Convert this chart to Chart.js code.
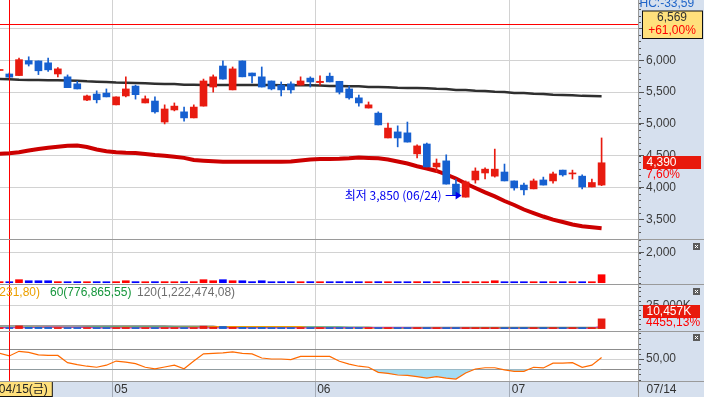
<!DOCTYPE html>
<html lang="ko">
<head>
<meta charset="utf-8">
<title>일봉 차트</title>
<script src="https://cdn.jsdelivr.net/npm/chart.js@4.4.1/dist/chart.umd.min.js"></script>
<style>
  html, body { margin: 0; padding: 0; background: #fff; }
  #wrap { position: relative; width: 704px; height: 397px; overflow: hidden; background: #fff; }
  #wrap canvas { position: absolute; left: 0; }
  .bg { position: absolute; background: #d6e0ee; }
  .sep { position: absolute; background: #9a9a9a; z-index: 5; }
</style>
</head>
<body>
<div id="wrap">
  <div class="bg" style="left:638px;top:0;width:66px;height:397px"></div>
  <div class="bg" style="left:0;top:381px;width:638px;height:16px"></div>
  <canvas id="price" width="704" height="240" style="top:0"></canvas>
  <canvas id="amt" width="704" height="45" style="top:240px"></canvas>
  <canvas id="vol" width="704" height="46" style="top:285px"></canvas>
  <canvas id="osc" width="704" height="66" style="top:331px"></canvas>
  <div class="sep" style="left:638px;top:0;width:1px;height:397px"></div>
  <div class="sep" style="left:0;top:239px;width:704px;height:1px"></div>
  <div class="sep" style="left:0;top:284px;width:704px;height:1px"></div>
  <div class="sep" style="left:0;top:331px;width:704px;height:1px"></div>
  <div class="sep" style="left:0;top:381px;width:704px;height:1px"></div>
</div>
<script>
/* ── DATA ── */
const dates = [
  '04/14','04/15','04/18','04/19','04/20','04/21','04/22','04/25','04/26','04/27','04/28','04/29',
  '05/02','05/03','05/04','05/06','05/09','05/10','05/11','05/12','05/13','05/16','05/17','05/18',
  '05/19','05/20','05/23','05/24','05/25','05/26','05/27','05/30','05/31',
  '06/02','06/03','06/07','06/08','06/09','06/10','06/13','06/14','06/15','06/16','06/17','06/20',
  '06/21','06/22','06/23','06/24','06/27','06/28','06/29','06/30',
  '07/01','07/04','07/05','07/06','07/07','07/08','07/11','07/12','07/13','07/14'
];
const opens  = [5840,5785,5760,5995,5990,5960,5785,5740,5630,5375,5470,5485,5300,5440,5595,5330,5360,5030,5220,5190,5095,5280,5580,5910,5535,5990,5800,5740,5675,5610,5630,5610,5720,5650,5750,5670,5550,5410,5250,5170,4780,4875,4860,4530,4685,4325,4420,4055,3850,4120,4230,4180,4245,4105,4040,3980,4120,4105,4275,4215,4180,4010,4040];
const highs  = [5850,5800,6035,6055,5990,6035,5885,5770,5670,5455,5520,5550,5425,5740,5610,5440,5425,5300,5330,5265,5300,5705,5770,5990,5895,5990,5800,5895,5675,5660,5660,5740,5740,5755,5800,5670,5595,5455,5345,5190,5015,4970,5030,4670,4700,4450,4515,4135,4105,4310,4310,4605,4370,4105,4070,4135,4165,4245,4275,4275,4200,4135,4780];
const lows   = [5835,5730,5760,5910,5775,5825,5740,5570,5550,5365,5330,5425,5300,5425,5390,5330,5170,5000,5205,5045,5095,5280,5500,5705,5535,5740,5645,5580,5535,5440,5485,5610,5580,5610,5660,5470,5390,5280,5250,4985,4780,4640,4715,4465,4325,4245,4055,3885,3850,4070,4135,4165,4105,3960,3885,3980,4040,4070,4180,4135,3980,4010,4030];
const closes = [5848,5735,6010,5940,5835,5850,5865,5570,5550,5440,5380,5425,5425,5550,5460,5395,5190,5235,5280,5095,5265,5675,5740,5705,5865,5740,5755,5580,5550,5535,5535,5675,5660,5670,5660,5500,5410,5330,5300,4985,4935,4780,4715,4655,4325,4385,4055,3885,4090,4260,4290,4290,4105,3995,3965,4105,4040,4215,4200,4230,4010,4080,4390];
const ma120  = [5706,5702,5695,5692,5690,5688,5686,5684,5680,5670,5664,5660,5650,5646,5643,5640,5633,5629,5626,5617,5614,5613,5613,5612,5612,5611,5611,5610,5610,5609,5609,5608,5607,5605,5598,5596,5594,5592,5582,5580,5578,5567,5565,5563,5560,5551,5548,5535,5532,5520,5517,5504,5500,5488,5485,5473,5470,5458,5455,5452,5441,5439,5437];
const ma60   = [4533,4541,4556,4583,4607,4625,4641,4657,4662,4638,4599,4572,4556,4548,4544,4528,4512,4501,4486,4467,4434,4423,4415,4407,4407,4406,4406,4406,4407,4408,4410,4426,4442,4449,4449,4452,4460,4473,4465,4460,4442,4410,4379,4335,4300,4261,4206,4143,4065,3994,3926,3863,3790,3727,3656,3601,3546,3497,3460,3420,3392,3376,3361];
const amount = [70,60,200,130,130,130,70,65,70,60,70,65,70,130,70,60,70,70,65,60,70,200,130,200,130,130,70,130,65,70,60,65,70,60,65,70,65,60,65,70,65,60,65,70,65,60,70,65,70,65,60,130,65,60,65,60,55,60,55,60,55,50,530];
const volume = [1100,900,2900,1500,1400,1300,800,900,700,800,750,700,800,1200,700,650,700,800,600,650,700,2600,1600,2300,1500,1400,700,1300,600,650,600,550,600,520,560,600,580,520,500,640,560,520,540,600,620,560,610,580,700,560,500,900,480,420,400,380,330,350,300,320,280,230,10457];
const volMa5   = [1000,1050,1100,1150,1450,1500,1500,1450,1400,1350,820,800,790,800,810,800,790,780,790,800,810,800,800,790,780,790,800,810,800,790,780,790,800,800,790,1100,1150,1200,1200,1150,1100,1100,1050,450,440,430,420,420,410,400,400,390,390,380,380,370,370,360,360,350,350,340,2300];
const volMa20  = [1180,1190,1200,1210,1220,1220,1210,1200,1200,1190,1190,1200,1200,1210,1200,1190,1180,1190,1200,1210,1220,1230,2150,2180,2200,2220,2230,2220,2200,2180,2160,2150,520,510,500,500,490,490,480,480,470,470,460,460,450,450,440,440,430,430,420,420,410,410,400,400,390,390,380,380,370,370,900];
const volMa60  = [1400,1400,1410,1420,1420,1430,1430,1440,1440,1480,1490,1500,1500,1510,1510,1520,1520,1530,1530,1540,1540,1550,1550,1560,1560,1560,1550,1550,1540,1540,1530,1520,1510,1500,1490,1480,1470,1460,1450,760,760,760,760,770,770,770,770,770,770,770,770,775,775,775,775,775,775,776,776,776,777,777,777];
const volMa120 = [2900,2900,2890,2890,2880,2880,2870,2870,2860,2860,2850,2850,2840,2840,2830,2830,2820,2820,2810,2810,2800,2800,2790,1300,1300,1295,1295,1290,1290,1285,1285,1280,1280,1275,1275,1270,1270,1265,1265,1260,1260,1255,1255,1250,1250,1245,1245,1240,1240,1235,1235,1230,1230,1228,1228,1226,1226,1225,1225,1224,1223,1222,1222];
const osc = [61,56,65,63,58,57,57,43,39,36,34,38,46,44,41,34,31,34.5,38,31,46,60,61,62,64,61,60,52,50,50,49,55,55,55,55,45.6,40,36,34,24,22,19,18.4,15.7,13,15.7,13,11,23,30.6,33,33,29,26,26,34,32.6,42,42,43,34,38,53];

const priceTicks = [3500, 4000, 4500, 5000, 5500, 6000, 6500];
const oscLevels  = [70, 30];
const monthEdges  = [11.6, 32.5, 52.55];
const monthLabels = ['05', '06', '07'];
const crossIdx = 1, crossPrice = 6569, lowIdx = 48;

/* ── STYLE ── */
const FONT = '"Liberation Sans", Arial, "Noto Sans CJK KR", sans-serif';
const KFONT = '"Noto Sans CJK KR", "Liberation Sans", sans-serif';
const UP = '#e81b10', DOWN = '#1660d0';
const X_MIN = 0.042, X_MAX = 65.75;
Chart.defaults.font.family = FONT;
Chart.defaults.font.size = 12;
Chart.defaults.color = '#333';

const xs = dates.map((d, k) => k);
const pts = arr => arr.map((v, k) => ({ x: k, y: v }));
const isUp = k => closes[k] >= opens[k];
const comma = v => v.toLocaleString('en-US');

function xAxis(withDates) {
  return {
    type: 'linear', min: X_MIN, max: X_MAX, offset: false,
    afterBuildTicks: s => { s.ticks = monthEdges.map(v => ({ value: v })); },
    afterFit: s => { s.height = withDates ? 16 : 0; s.paddingLeft = 0; s.paddingRight = 0; },
    grid: { offset: false, color: '#d2d2d2', drawTicks: withDates, tickLength: 16, tickColor: '#a4acb8' },
    border: { display: false },
    ticks: {
      display: withDates, autoSkip: false, maxRotation: 0, align: 'start',
      padding: -15, labelOffset: 2, color: '#333',
      callback: (v, i) => monthLabels[i]
    }
  };
}

function yAxis(min, max, ticks, fmt) {
  return {
    position: 'right', min, max,
    afterBuildTicks: s => { s.ticks = ticks.map(v => ({ value: v })); },
    afterFit: s => { s.width = 66; s.paddingTop = 0; s.paddingBottom = 0; },
    grid: { color: '#d2d2d2', tickColor: '#555', tickLength: 6 },
    border: { display: false },
    ticks: { padding: 2, color: '#3a3a3a', callback: fmt }
  };
}

function baseOptions(y, withDates, minorStep) {
  return {
    responsive: false, animation: false, events: [],
    layout: { padding: 0 },
    plugins: { legend: { display: false }, tooltip: { enabled: false }, minor: { step: minorStep } },
    scales: { x: xAxis(withDates), y }
  };
}

/* ── PLUGINS ── */
const crosshair = {
  id: 'crosshair',
  afterDatasetsDraw(chart) {
    const { ctx, chartArea: a, scales: { x } } = chart;
    const px = Math.round(x.getPixelForValue(crossIdx)) + 0.5;
    ctx.save();
    ctx.strokeStyle = '#ff0000'; ctx.lineWidth = 1;
    ctx.beginPath(); ctx.moveTo(px, a.top); ctx.lineTo(px, a.bottom); ctx.stroke();
    ctx.restore();
  }
};

const minorTicks = {
  id: 'minor',
  afterDraw(chart, args, opts) {
    const { ctx, chartArea: a, scales: { y } } = chart;
    ctx.save();
    ctx.strokeStyle = '#555'; ctx.lineWidth = 1;
    ctx.beginPath();
    for (let v = Math.ceil(y.min / opts.step) * opts.step; v <= y.max; v += opts.step) {
      const py = Math.round(y.getPixelForValue(v)) + 0.5;
      ctx.moveTo(a.right, py); ctx.lineTo(a.right + 3, py);
    }
    ctx.stroke();
    ctx.restore();
  }
};

const closeBox = {
  id: 'closeBox',
  afterDraw(chart) {
    const { ctx, chartArea: a } = chart;
    const x0 = 693, y0 = a.top + 3;
    ctx.save();
    ctx.fillStyle = '#5c5c5c'; ctx.fillRect(x0, y0, 7, 7);
    ctx.strokeStyle = '#fff'; ctx.lineWidth = 1;
    ctx.beginPath();
    ctx.moveTo(x0 + 2, y0 + 2); ctx.lineTo(x0 + 5, y0 + 5);
    ctx.moveTo(x0 + 5, y0 + 2); ctx.lineTo(x0 + 2, y0 + 5);
    ctx.stroke();
    ctx.restore();
  }
};

function label(ctx, text, x, y, color, align) {
  ctx.fillStyle = color; ctx.textAlign = align || 'left'; ctx.textBaseline = 'middle';
  ctx.fillText(text, x, y);
}

const priceMarks = {
  id: 'priceMarks',
  afterDraw(chart) {
    const { ctx, chartArea: a, scales: { x, y } } = chart;
    ctx.save();
    ctx.font = '12px ' + FONT;

    // 십자선 가격선
    const cy = Math.round(y.getPixelForValue(crossPrice)) + 0.5;
    ctx.strokeStyle = '#ff0000'; ctx.lineWidth = 1;
    ctx.beginPath(); ctx.moveTo(a.left, cy); ctx.lineTo(a.right, cy); ctx.stroke();

    // 최저가 표시
    const lx = x.getPixelForValue(lowIdx) - 4;
    const ly = Math.round(y.getPixelForValue(lows[lowIdx]) - 2) + 0.5;
    ctx.strokeStyle = '#0000ee'; ctx.fillStyle = '#0000ee';
    ctx.beginPath(); ctx.moveTo(lx - 16, ly); ctx.lineTo(lx - 4, ly); ctx.stroke();
    ctx.beginPath(); ctx.moveTo(lx, ly); ctx.lineTo(lx - 6, ly - 4); ctx.lineTo(lx - 6, ly + 4); ctx.closePath(); ctx.fill();
    ctx.font = '12px ' + KFONT;
    label(ctx, '최저 ' + comma(lows[lowIdx]) + ' (' + dates[lowIdx] + ')', lx - 20, ly, '#0000ee', 'right');
    ctx.font = '12px ' + FONT;

    // 오른쪽 축 상단 지표값
    ctx.fillStyle = '#1f64c8'; ctx.textAlign = 'left'; ctx.textBaseline = 'alphabetic';
    ctx.fillText('HC:-33,59', 639.5, 7);

    // 십자선 가격 박스
    ctx.fillStyle = '#ffe07c'; ctx.fillRect(642.5, cy - 13.5, 60, 27.5);
    ctx.strokeStyle = '#111'; ctx.strokeRect(642.5, cy - 13.5, 60, 27.5);
    label(ctx, comma(crossPrice), 672, cy - 7, '#333', 'center');
    label(ctx, '+61,00%', 672, cy + 6, '#ff0000', 'center');

    // 현재가 박스
    const ny = y.getPixelForValue(closes[closes.length - 1]);
    ctx.fillStyle = '#e8190c'; ctx.fillRect(643, Math.round(ny - 7), 58, 13);
    label(ctx, comma(closes[closes.length - 1]), 646.5, ny, '#fff');
    label(ctx, '7,60%', 646, ny + 12, '#ff0000');
    ctx.restore();
  }
};

const volMarks = {
  id: 'volMarks',
  afterDraw(chart) {
    const { ctx, scales: { y } } = chart;
    ctx.save();
    ctx.font = '12px ' + FONT;
    label(ctx, '1,231,80)', 40, 8, '#eba000', 'right');
    label(ctx, '60(776,865,55)', 50, 8, '#16963c');
    label(ctx, '120(1,222,474,08)', 137, 8, '#6e6e6e');
    const vy = y.getPixelForValue(volume[volume.length - 1]);
    ctx.fillStyle = '#e8190c'; ctx.fillRect(643, Math.round(vy - 14), 57, 13);
    label(ctx, comma(volume[volume.length - 1]) + 'K', 646.5, vy - 7.5, '#fff');
    label(ctx, '4455,13%', 646, vy + 4, '#ff0000');
    ctx.restore();
  }
};

const oscMarks = {
  id: 'oscMarks',
  beforeDatasetsDraw(chart) {
    const { ctx, chartArea: a, scales: { y } } = chart;
    ctx.save();
    ctx.strokeStyle = '#8c8c8c'; ctx.lineWidth = 1;
    ctx.beginPath();
    oscLevels.forEach(v => {
      const py = Math.round(y.getPixelForValue(v)) + 0.5;
      ctx.moveTo(a.left, py); ctx.lineTo(a.right, py);
    });
    ctx.stroke();
    ctx.restore();
  },
  afterDraw(chart) {
    const { ctx, chartArea: a, scales: { x } } = chart;
    ctx.save();
    ctx.font = '12px ' + FONT;
    const bx = x.getPixelForValue(crossIdx);
    ctx.fillStyle = '#ffe07c'; ctx.fillRect(bx - 11, a.bottom + 0.5, 54, 15);
    ctx.strokeStyle = '#111'; ctx.strokeRect(bx - 11, a.bottom + 0.5, 54, 15);
    label(ctx, dates[crossIdx] + '(금)', bx - 10.5, a.bottom + 8.5, '#222');
    label(ctx, dates[dates.length - 1], 646.5, a.bottom + 8.5, '#333');
    ctx.restore();
  }
};

/* ── PRICE PANEL ── */
new Chart(document.getElementById('price'), {
  type: 'bar',
  data: {
    datasets: [
      { data: xs.map(k => ({ x: k, y: [opens[k], closes[k]] })), backgroundColor: c => isUp(c.dataIndex) ? UP : DOWN,
        barThickness: 7, grouped: false, minBarLength: 1 },
      { data: xs.map(k => ({ x: k, y: [lows[k], highs[k]] })), backgroundColor: c => isUp(c.dataIndex) ? UP : DOWN,
        barThickness: 1, grouped: false },
      { type: 'line', data: pts(ma120), borderColor: '#2f2f2f', borderWidth: 2.5, pointRadius: 0 },
      { type: 'line', data: pts(ma60), borderColor: '#cc0000', borderWidth: 4, pointRadius: 0 }
    ]
  },
  options: baseOptions(yAxis(3177, 6947, priceTicks, comma), false, 100),
  plugins: [crosshair, minorTicks, priceMarks]
});

/* ── AMOUNT PANEL ── */
new Chart(document.getElementById('amt'), {
  type: 'bar',
  data: {
    datasets: [
      { data: pts(amount), backgroundColor: c => isUp(c.dataIndex) ? '#ff0000' : '#0000ff',
        barThickness: 7, grouped: false, minBarLength: 1 }
    ]
  },
  options: baseOptions(yAxis(-152, 2828, [2000], comma), false, 400),
  plugins: [crosshair, minorTicks, closeBox]
});

/* ── VOLUME PANEL ── */
new Chart(document.getElementById('vol'), {
  type: 'bar',
  data: {
    datasets: [
      { data: pts(volume), backgroundColor: c => isUp(c.dataIndex) ? UP : DOWN,
        barThickness: 7, grouped: false, minBarLength: 1 },
      { type: 'line', data: pts(volMa5), borderColor: '#c83cb4', borderWidth: 1.2, pointRadius: 0 },
      { type: 'line', data: pts(volMa20), borderColor: '#eba000', borderWidth: 1.2, pointRadius: 0 },
      { type: 'line', data: pts(volMa60), borderColor: '#16963c', borderWidth: 1.2, pointRadius: 0 },
      { type: 'line', data: pts(volMa120), borderColor: '#7a7a7a', borderWidth: 1.2, pointRadius: 0 }
    ]
  },
  options: baseOptions(yAxis(-2575, 46781, [25000], v => comma(v) + 'K'), false, 5000),
  plugins: [crosshair, minorTicks, closeBox, volMarks]
});

/* ── OSCILLATOR PANEL ── */
new Chart(document.getElementById('osc'), {
  type: 'line',
  data: {
    datasets: [
      { data: pts(osc), borderColor: '#ff6a00', borderWidth: 1.2, pointRadius: 0,
        fill: { target: { value: oscLevels[1] }, above: 'rgba(0,0,0,0)', below: '#a5dcf2' } }
    ]
  },
  options: baseOptions(yAxis(7.3, 104.4, [50], v => v.toFixed(2).replace('.', ',')), true, 10),
  plugins: [crosshair, minorTicks, closeBox, oscMarks]
});
</script>
</body>
</html>
